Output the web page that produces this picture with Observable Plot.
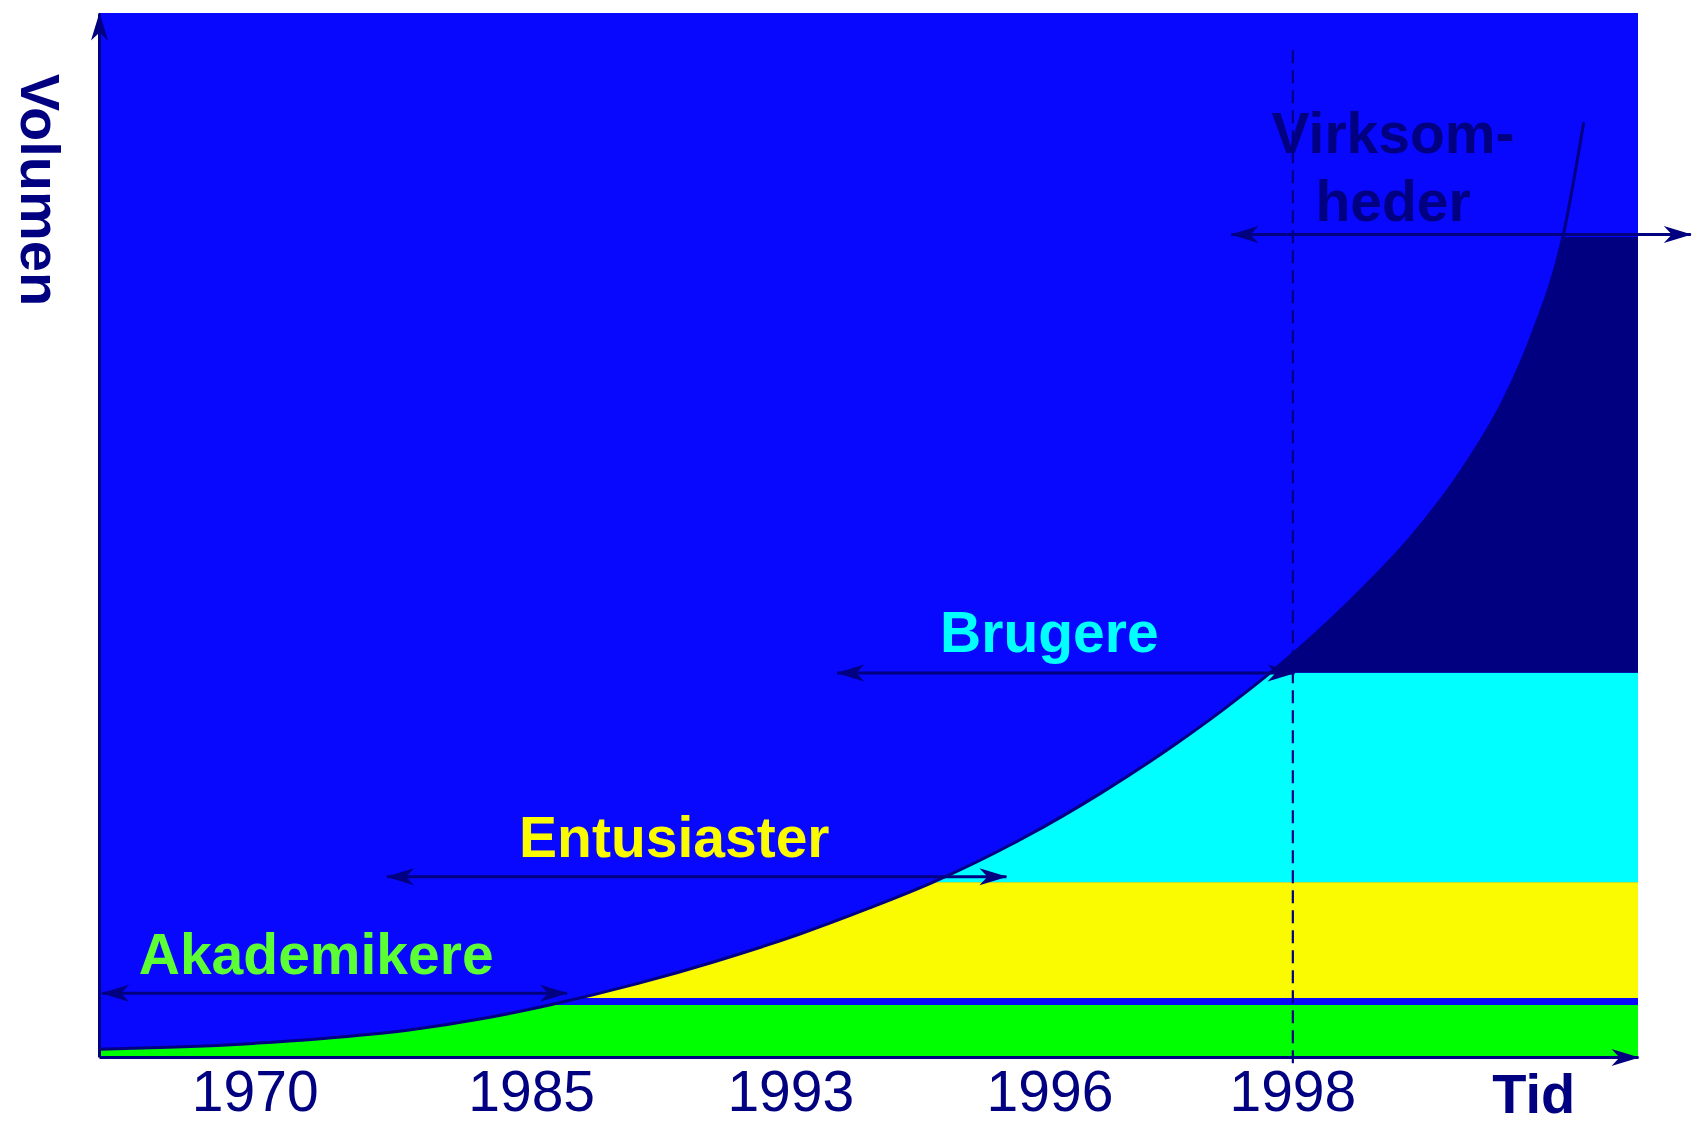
<!DOCTYPE html>
<html>
<head>
<meta charset="utf-8">
<script src="https://cdn.jsdelivr.net/npm/d3@7"></script>
<script src="https://cdn.jsdelivr.net/npm/@observablehq/plot@0.6"></script>
<style>
html, body { margin: 0; padding: 0; background: #fff; overflow: hidden; }
</style>
</head>
<body>
<div id="chart"></div>
<script>
// ---- data (conceptual units: time 0..100, volume 0..100) ----
const xDomain = [0, 100];
const yDomain = [0, 100];

// growth curve
const curveX = [0, 5, 10, 14.36, 20, 25, 29.09, 35, 40, 45.55, 50, 54.1, 60, 65.04, 70, 73, 76.52, 81.29, 85.40, 88.65, 91.25, 93.0, 95.13, 96.43];
const curveY = [0.78, 1.0, 1.35, 1.79, 2.6, 3.75, 4.98, 7.1, 9.2, 11.85, 14.3, 16.75, 21.0, 25.3, 30.1, 33.3, 37.39, 43.77, 50.16, 56.54, 63.0, 68.9, 78.9, 89.46];

// user groups: volume bands
const groupNames = ["Akademikere", "Entusiaster", "Brugere", "Virksomheder"];
const bandLow  = [0, 5.65, 16.75, 36.81];
const bandHigh = [4.98, 16.75, 36.81, 78.54];

// time spans of each group (double arrows)
const spanFrom  = [0.17, 18.68, 47.94, 73.55];
const spanTo    = [30.38, 58.93, 77.65, 103.4];
const spanLevel = [6.16, 17.31, 36.82, 78.83];

// group labels
const labelText = ["Akademikere", "Entusiaster", "Brugere", "Virksom-\nheder"];
const labelX = [14.08, 37.35, 61.72, 84.05];
const labelY = [8.02, 19.19, 38.8, 80.1];

// time axis ticks
const tickLabels = ["1970", "1985", "1993", "1996", "1998"];
const tickPos = [10.12, 28.08, 44.92, 61.76, 77.54];
const markerYear = 77.54; // 1998, dashed line

// axis titles
const axisTitleText = ["Volumen", "Tid"];
const axisTitleX = [-3.96, 93.2];
const axisTitleY = [83.1, -5.3];

// ---- colours ----
const BLUE = "#0808ff";
const NAVY = "#000080";
const bandColors = ["#00ff00", "#fafa00", "#00ffff", "#000080"];
const labelColors = ["#5cff33", "#fafa00", "#00ffff", "#000080"];

// ---- tables ----
const curve = curveX.map((x, i) => ({x, y: curveY[i]}));
const bands = groupNames.map((name, i) => ({name, low: bandLow[i], high: bandHigh[i], color: bandColors[i]}));
const spans = groupNames.map((name, i) => ({name, from: spanFrom[i], to: spanTo[i], level: spanLevel[i]}));
const labels = labelText.map((text, i) => ({text, x: labelX[i], y: labelY[i], color: labelColors[i]}));
const tickMap = new Map(tickPos.map((p, i) => [p, tickLabels[i]]));
const axisLines = [
  {x1: xDomain[0], y1: yDomain[0], x2: xDomain[0], y2: yDomain[1]},
  {x1: xDomain[0], y1: yDomain[0], x2: xDomain[1], y2: yDomain[0]}
];

const FONT = "'Liberation Sans', Arial, Helvetica, sans-serif";

const svg = Plot.plot({
  width: 1693,
  height: 1123,
  marginLeft: 99,
  marginRight: 55,
  marginTop: 13,
  marginBottom: 66,
  x: {domain: xDomain, axis: null},
  y: {domain: yDomain, axis: null},
  color: {type: "identity"},
  style: {background: "white", color: NAVY, fontFamily: FONT, overflow: "visible"},
  marks: [
    Plot.rect([0], {x1: xDomain[0], x2: xDomain[1], y1: yDomain[0], y2: yDomain[1], fill: BLUE}),
    Plot.rect(bands, {x1: xDomain[0], x2: xDomain[1], y1: "low", y2: "high", fill: "color"}),
    Plot.areaY(curve, {x: "x", y1: "y", y2: yDomain[1], fill: BLUE, curve: "monotone-x"}),
    Plot.line(curve, {x: "x", y: "y", stroke: NAVY, strokeWidth: 3, curve: "monotone-x"}),
    Plot.ruleX([markerYear], {y1: -0.6, y2: 97.1, stroke: NAVY, strokeWidth: 2.2, strokeDasharray: "13,7"}),
    Plot.link(spans, {x1: "from", x2: "to", y1: "level", y2: "level", stroke: NAVY, strokeWidth: 3, markerStart: "arrow-reverse", markerEnd: "arrow"}),
    Plot.link(axisLines, {x1: "x1", y1: "y1", x2: "x2", y2: "y2", stroke: NAVY, strokeWidth: 3, markerEnd: "arrow"}),
    Plot.axisX(tickPos, {tickFormat: d => tickMap.get(d), tickSize: 0, tickPadding: 13, fontSize: 57, fill: NAVY}),
    Plot.text(labels, {x: "x", y: "y", text: "text", fill: "color", fontSize: 57, fontWeight: "bold", textAnchor: "middle", lineAnchor: "bottom", lineHeight: 1.2}),
    Plot.text([0], {x: axisTitleX[1], y: axisTitleY[1], text: () => axisTitleText[1], fill: NAVY, fontSize: 56, fontWeight: "bold", textAnchor: "middle", lineAnchor: "bottom"}),
    Plot.text([0], {x: axisTitleX[0], y: axisTitleY[0], text: () => axisTitleText[0], fill: NAVY, fontSize: 56, fontWeight: "bold", textAnchor: "middle", lineAnchor: "middle", rotate: 90})
  ]
});

// arrowheads: slim filled barbs like the original, pointing outward at both ends
svg.querySelectorAll("marker").forEach(m => {
  const c = m.getAttribute("stroke") || NAVY;
  m.setAttribute("viewBox", "-30 -12 32 24");
  m.setAttribute("markerWidth", 32);
  m.setAttribute("markerHeight", 24);
  m.setAttribute("markerUnits", "userSpaceOnUse");
  m.setAttribute("orient", "auto-start-reverse");
  m.setAttribute("fill", c);
  m.setAttribute("stroke", "none");
  m.querySelectorAll("path").forEach(p => p.setAttribute("d", "M1,0L-27,-8.5L-19,0L-27,8.5Z"));
});

document.getElementById("chart").appendChild(svg);
</script>
</body>
</html>
